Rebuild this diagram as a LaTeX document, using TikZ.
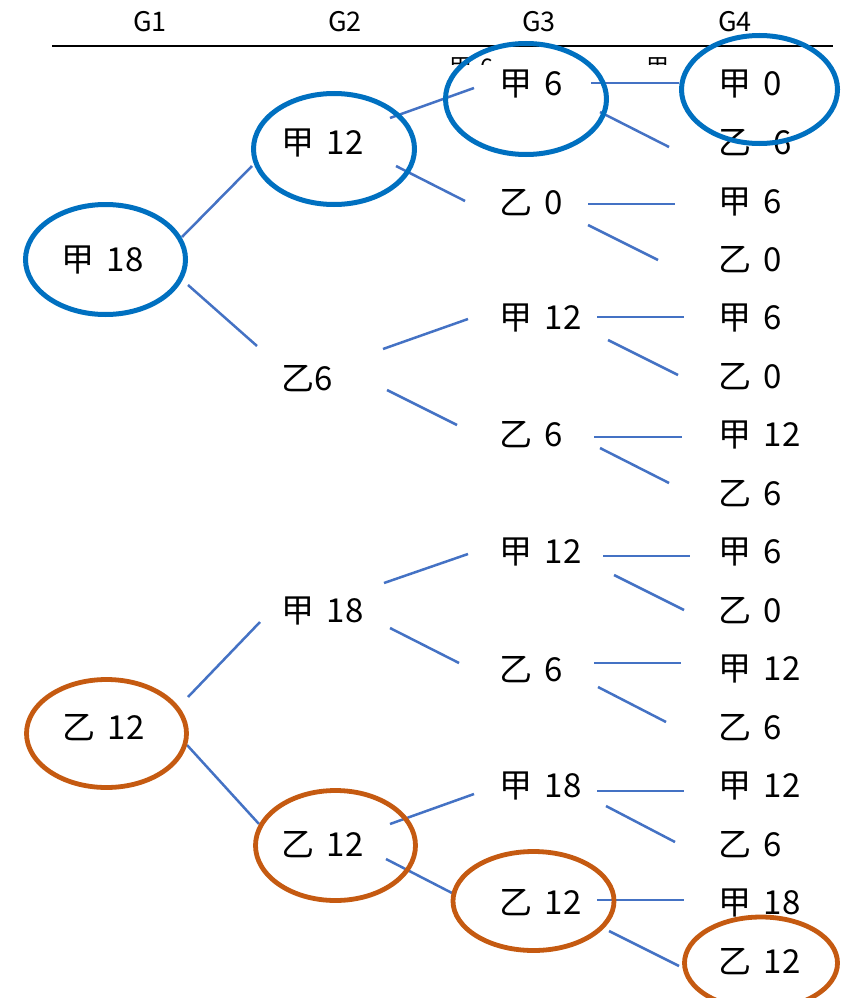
\documentclass[tikz,border=0pt]{standalone}
\usepackage{fontspec}
\setmainfont[WordSpace=1.7]{Noto Sans CJK JP}
\usetikzlibrary{calc}
\definecolor{ellblue}{HTML}{0070C0}
\definecolor{ellorange}{HTML}{C55A11}
\definecolor{linkblue}{HTML}{4472C4}
\tikzset{
  lbl/.style={inner sep=0pt, anchor=west, text height=24pt, text depth=0pt, font=\fontsize{33pt}{36pt}\selectfont},
  hdr/.style={inner sep=0pt, font=\fontsize{27pt}{29pt}\selectfont},
  frag/.style={inner sep=0pt, anchor=north west, font=\fontsize{23pt}{25pt}\selectfont},
  link/.style={draw=linkblue, line width=2.5pt},
  ellb/.style={draw=ellblue, line width=5pt},
  ello/.style={draw=ellorange, line width=4.8pt},
}
\newcommand\conn[6]{\draw[link] ($(#1.west)+(#2,#3)$) -- ($(#4.west)+(#5,#6)$);}
\begin{document}
\begin{tikzpicture}[x=1pt,y=-1pt]
\useasboundingbox (0,0) rectangle (841,998);
\clip (0,0) rectangle (841,998);
% header
\node[hdr] (h1) at (150,22) {G1};
\node[hdr] (h2) at (345,22) {G2};
\node[hdr] (h3) at (539,22) {G3};
\node[hdr] (h4) at (735,22) {G4};
\draw[line width=2.8pt] (52,46) -- (833,46);
% partially hidden texts
\begin{scope}
\clip (440,56) rectangle (700,65);
\node[frag] (f1) at (449,57) {甲 6};
\node[frag] (f2) at (646,57) {甲};
\end{scope}
% G1
\node[lbl] (g1a) at (61,259) {甲 18};
\node[lbl] (g1b) at (62,727) {乙 12};
% G2
\node[lbl] (g2a) at (281,142) {甲 12};
\node[lbl] (g2b) at (281,378) {乙6};
\node[lbl] (g2c) at (281,610) {甲 18};
\node[lbl] (g2d) at (281,844) {乙 12};
% G3
\node[lbl] (g3a) at (499,83) {甲 6};
\node[lbl] (g3b) at (499,202) {乙 0};
\node[lbl] (g3c) at (499,317) {甲 12};
\node[lbl] (g3d) at (499,434) {乙 6};
\node[lbl] (g3e) at (499,551) {甲 12};
\node[lbl] (g3f) at (499,669) {乙 6};
\node[lbl] (g3g) at (499,785) {甲 18};
\node[lbl] (g3h) at (499,902) {乙 12};
% G4
\node[lbl] (g4a) at (718,83) {甲 0};
\node[lbl] (g4b) at (718,142) {乙\hspace{0.3em} 6};
\node[lbl] (g4c) at (718,201) {甲 6};
\node[lbl] (g4d) at (718,259) {乙 0};
\node[lbl] (g4e) at (718,317) {甲 6};
\node[lbl] (g4f) at (718,376) {乙 0};
\node[lbl] (g4g) at (718,434) {甲 12};
\node[lbl] (g4h) at (718,493) {乙 6};
\node[lbl] (g4i) at (718,551) {甲 6};
\node[lbl] (g4j) at (718,610) {乙 0};
\node[lbl] (g4k) at (718,668) {甲 12};
\node[lbl] (g4l) at (718,727) {乙 6};
\node[lbl] (g4m) at (718,785) {甲 12};
\node[lbl] (g4n) at (718,844) {乙 6};
\node[lbl] (g4o) at (718,902) {甲 18};
\node[lbl] (g4p) at (718,961) {乙 12};
% connectors
\conn{g1a}{121}{-22}{g2a}{-29}{24}
\conn{g1a}{127}{26}{g2b}{-24}{-32}
\conn{g2a}{109}{-24}{g3a}{-25}{5}
\conn{g2a}{115}{24}{g3b}{-34}{-1}
\conn{g3a}{92}{0}{g4a}{-39}{0}
\conn{g3a}{101}{29}{g4b}{-49}{5}
\conn{g3b}{89}{2}{g4c}{-43}{3}
\conn{g3b}{89}{23}{g4d}{-60}{1}
\conn{g2b}{102}{-29}{g3c}{-31}{2}
\conn{g2b}{106}{12}{g3d}{-42}{-9}
\conn{g3c}{98}{0}{g4e}{-34}{0}
\conn{g3c}{109}{23}{g4f}{-40}{-1}
\conn{g3d}{95}{3}{g4g}{-36}{3}
\conn{g3d}{101}{14}{g4h}{-49}{-10}
\conn{g1b}{126}{-30}{g2c}{-21}{12}
\conn{g1b}{125}{18}{g2d}{-22}{-20}
\conn{g2c}{103}{-27}{g3e}{-31}{3}
\conn{g2c}{109}{18}{g3f}{-40}{-6}
\conn{g3e}{104}{5}{g4i}{-28}{5}
\conn{g3e}{115}{24}{g4j}{-34}{0}
\conn{g3f}{95}{-6}{g4k}{-37}{-5}
\conn{g3f}{99}{18}{g4l}{-52}{-5}
\conn{g2d}{109}{-20}{g3g}{-25}{9}
\conn{g2d}{105}{15}{g3h}{-47}{-9}
\conn{g3g}{98}{6}{g4m}{-34}{6}
\conn{g3g}{107}{21}{g4n}{-43}{-2}
\conn{g3h}{98}{-2}{g4o}{-34}{-2}
\conn{g3h}{110}{29}{g4p}{-39}{5}
% ellipses
\draw[ellb] (105.5,259.5) ellipse [x radius=80, y radius=55];
\draw[ellb] (334,149) ellipse [x radius=80.5, y radius=55.5];
\draw[ellb] (526,99) ellipse [x radius=80.5, y radius=55.5];
\draw[ellb] (759.5,89.5) ellipse [x radius=78, y radius=54];
\draw[ello] (106.5,733.5) ellipse [x radius=80, y radius=54];
\draw[ello] (335.5,845.5) ellipse [x radius=80, y radius=55];
\draw[ello] (533.5,901) ellipse [x radius=80.5, y radius=49.5];
\draw[ello] (761,963) ellipse [x radius=76.5, y radius=46];
\end{tikzpicture}
\end{document}
